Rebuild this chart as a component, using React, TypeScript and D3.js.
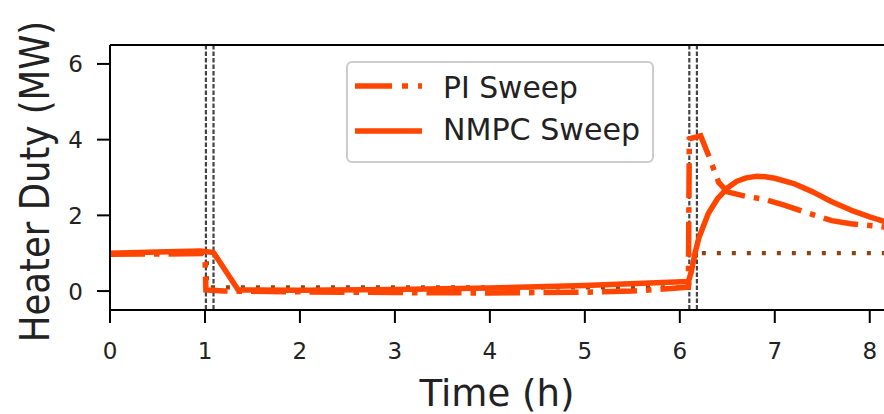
import React from 'react';
import * as d3 from 'd3';

// time (h) and heater duty (MW)
const piTime = [0, 0.5, 0.98, 1.0, 1.01, 1.2, 2, 3, 4, 5, 5.5, 6.09, 6.1, 6.22, 6.3, 6.41, 6.5, 6.7, 6.9, 7.1, 7.3, 7.6, 7.8, 8.0, 8.2];
const piDuty = [0.97, 0.98, 0.99, 0.95, 0.03, 0.0, -0.02, -0.04, -0.05, -0.03, 0.0, 0.1, 4.02, 4.1, 3.6, 2.87, 2.62, 2.5, 2.42, 2.27, 2.1, 1.86, 1.78, 1.73, 1.68];

const nmpcTime = [0, 0.5, 0.95, 1.09, 1.35, 2, 3, 4, 5, 6.09, 6.12, 6.16, 6.2, 6.3, 6.4, 6.5, 6.6, 6.7, 6.8, 6.9, 7.0, 7.2, 7.4, 7.6, 7.8, 8.0, 8.2];
const nmpcDuty = [1.0, 1.03, 1.06, 1.02, 0.03, 0.02, 0.04, 0.08, 0.15, 0.25, 0.5, 1.0, 1.4, 2.05, 2.45, 2.72, 2.9, 2.99, 3.03, 3.02, 2.98, 2.84, 2.62, 2.36, 2.14, 1.96, 1.8];

const spTime = [0, 1.02, 1.02, 6.1, 6.1, 8.2];
const spDuty = [1.0, 1.0, 0.1, 0.1, 1.0, 1.0];

const eventTimes = [1.01, 1.09, 6.1, 6.18];

const xTicks = [0, 1, 2, 3, 4, 5, 6, 7, 8];
const yTicks = [0, 2, 4, 6];

const W = 884;
const H = 414;
const left = 110;
const right = 884;
const top = 45;
const bottom = 310;
const orange = '#ff4500';
const font = 'DejaVu Sans, sans-serif';

export default function App() {
  const x = d3.scaleLinear().domain([0, 8.15]).range([left, right]);
  const y = d3.scaleLinear().domain([-0.5, 6.5]).range([bottom, top]);

  const line = d3.line<[number, number]>()
    .x(d => x(d[0]))
    .y(d => y(d[1]));

  const pairs = (t: number[], v: number[]) => t.map((ti, i) => [ti, v[i]] as [number, number]);

  return (
    <svg width={W} height={H} style={{ position: 'absolute', left: 0, top: 0, background: '#fff' }}>
      <defs>
        <clipPath id="plot">
          <rect x={left} y={top} width={right - left} height={bottom - top} />
        </clipPath>
      </defs>

      <g clipPath="url(#plot)">
        {eventTimes.map(t => (
          <line key={t} x1={x(t)} x2={x(t)} y1={top} y2={bottom}
            stroke="#444" strokeWidth={2.2} strokeDasharray="4.5 2" />
        ))}
        <path d={line(pairs(spTime, spDuty)) || ''} fill="none" stroke="#8b4513"
          strokeWidth={4.2} strokeDasharray="4 11" />
        <path d={line(pairs(piTime, piDuty)) || ''} fill="none" stroke={orange}
          strokeWidth={5.5} strokeDasharray="35 9 5.5 9" />
        <path d={line(pairs(nmpcTime, nmpcDuty)) || ''} fill="none" stroke={orange}
          strokeWidth={5.5} strokeLinejoin="round" />
      </g>

      {/* spines */}
      <line x1={left} x2={left} y1={top} y2={bottom} stroke="#000" strokeWidth={2} />
      <line x1={left} x2={W} y1={top} y2={top} stroke="#000" strokeWidth={2} />
      <line x1={left} x2={W} y1={bottom} y2={bottom} stroke="#000" strokeWidth={2} />

      {/* x axis */}
      {xTicks.map(t => (
        <g key={t}>
          <line x1={x(t)} x2={x(t)} y1={bottom} y2={bottom + 13} stroke="#000" strokeWidth={2} />
          <text x={x(t)} y={359} textAnchor="middle" fontFamily={font} fontSize={23} fill="#222">{t}</text>
        </g>
      ))}
      <text x={(left + right) / 2} y={406} textAnchor="middle" fontFamily={font} fontSize={38}
        textLength={155} lengthAdjust="spacingAndGlyphs" fill="#222">Time (h)</text>

      {/* y axis */}
      {yTicks.map(t => (
        <g key={t}>
          <line x1={left - 13} x2={left} y1={y(t)} y2={y(t)} stroke="#000" strokeWidth={2} />
          <text x={83} y={y(t) + 8.5} textAnchor="end" fontFamily={font} fontSize={23} fill="#222">{t}</text>
        </g>
      ))}
      <text transform={`translate(49,${(top + bottom) / 2 + 4}) rotate(-90) scale(1,1.15)`} textAnchor="middle"
        fontFamily={font} fontSize={35.5} fill="#222">
        Heater Duty (MW)
      </text>

      {/* legend */}
      <rect x={347} y={62} width={306} height={100} rx={5} fill="#fff" fillOpacity={0.8}
        stroke="#cccccc" strokeWidth={2} />
      <line x1={355} x2={422} y1={86} y2={86} stroke={orange} strokeWidth={5.5} strokeDasharray="37 10 6 10" />
      <text x={443} y={98} fontFamily={font} fontSize={31} textLength={135} lengthAdjust="spacingAndGlyphs" fill="#222">PI Sweep</text>
      <line x1={355} x2={422} y1={131} y2={131} stroke={orange} strokeWidth={5.5} />
      <text x={443} y={140} fontFamily={font} fontSize={31} textLength={197} lengthAdjust="spacingAndGlyphs" fill="#222">NMPC Sweep</text>
    </svg>
  );
}
